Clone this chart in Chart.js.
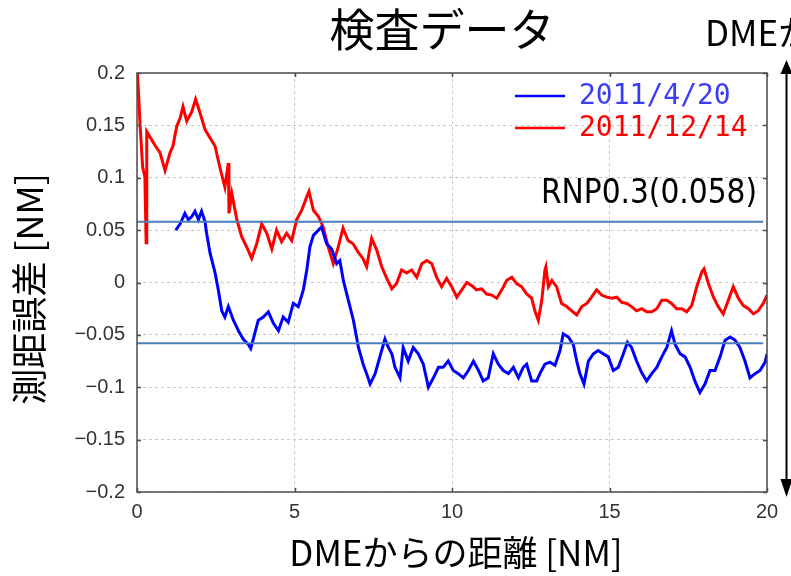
<!DOCTYPE html>
<html>
<head>
<meta charset="utf-8">
<title>検査データ</title>
<script src="https://cdn.jsdelivr.net/npm/chart.js@4.4.0/dist/chart.umd.min.js"></script>
<style>
  html, body { margin: 0; padding: 0; background: #fff; }
  #wrap { width: 791px; height: 576px; }
</style>
</head>
<body>
<div id="wrap"><canvas id="errChart" width="791" height="576"></canvas></div>
<script>
// 測距誤差 [NM] vs DMEからの距離 [NM]  ([距離, 誤差] の組)
const trace20110420 = [
  [1.23,0.050],[1.37,0.056],[1.52,0.066],[1.63,0.060],[1.74,0.063],[1.84,0.068],[1.95,0.060],[2.05,0.068],
  [2.16,0.058],[2.21,0.047],[2.32,0.028],[2.48,0.009],[2.58,-0.007],[2.69,-0.027],[2.79,-0.033],[2.90,-0.023],
  [3.06,-0.036],[3.22,-0.046],[3.37,-0.054],[3.53,-0.059],[3.61,-0.063],[3.71,-0.052],[3.85,-0.036],[4.01,-0.033],
  [4.17,-0.028],[4.33,-0.039],[4.49,-0.046],[4.64,-0.033],[4.80,-0.038],[4.96,-0.020],[5.12,-0.023],[5.28,-0.007],
  [5.39,0.012],[5.49,0.034],[5.60,0.045],[5.76,0.050],[5.86,0.053],[6.02,0.037],[6.18,0.032],[6.34,0.018],
  [6.44,0.021],[6.55,0.002],[6.71,-0.017],[6.87,-0.036],[7.03,-0.062],[7.18,-0.078],[7.29,-0.087],[7.40,-0.097],
  [7.56,-0.087],[7.71,-0.071],[7.87,-0.054],[7.98,-0.062],[8.09,-0.068],[8.19,-0.081],[8.35,-0.091],[8.45,-0.062],
  [8.61,-0.075],[8.77,-0.062],[8.93,-0.068],[9.09,-0.078],[9.25,-0.100],[9.41,-0.091],[9.57,-0.081],[9.72,-0.081],
  [9.88,-0.075],[10.04,-0.084],[10.20,-0.087],[10.36,-0.091],[10.52,-0.084],[10.68,-0.075],[10.84,-0.084],[10.99,-0.094],
  [11.15,-0.091],[11.31,-0.068],[11.47,-0.078],[11.63,-0.084],[11.79,-0.087],[11.95,-0.081],[12.11,-0.091],[12.26,-0.081],
  [12.37,-0.078],[12.53,-0.094],[12.69,-0.094],[12.79,-0.087],[12.95,-0.078],[13.11,-0.076],[13.27,-0.079],[13.43,-0.065],
  [13.53,-0.049],[13.69,-0.052],[13.85,-0.059],[13.96,-0.075],[14.06,-0.087],[14.19,-0.097],[14.33,-0.075],[14.49,-0.068],
  [14.64,-0.065],[14.80,-0.068],[14.96,-0.071],[15.12,-0.084],[15.28,-0.081],[15.44,-0.068],[15.57,-0.057],[15.70,-0.062],
  [15.86,-0.075],[16.02,-0.086],[16.18,-0.094],[16.34,-0.087],[16.50,-0.081],[16.66,-0.071],[16.82,-0.062],[16.97,-0.046],
  [17.08,-0.059],[17.24,-0.068],[17.40,-0.071],[17.56,-0.081],[17.71,-0.094],[17.87,-0.105],[18.03,-0.097],[18.19,-0.084],
  [18.35,-0.084],[18.51,-0.071],[18.67,-0.055],[18.83,-0.052],[18.98,-0.055],[19.14,-0.062],[19.30,-0.075],[19.46,-0.091],
  [19.62,-0.087],[19.78,-0.084],[19.94,-0.076],[20.00,-0.068]
];

const trace20111214 = [
  [0.01,0.200],[0.06,0.174],[0.10,0.149],[0.18,0.110],[0.25,0.101],[0.29,0.038],[0.31,0.144],[0.41,0.139],
  [0.57,0.131],[0.73,0.124],[0.89,0.107],[1.05,0.124],[1.14,0.130],[1.26,0.149],[1.37,0.157],[1.46,0.168],
  [1.58,0.154],[1.74,0.163],[1.86,0.175],[2.00,0.162],[2.16,0.146],[2.32,0.138],[2.48,0.130],[2.63,0.110],
  [2.79,0.091],[2.90,0.114],[2.92,0.066],[3.01,0.085],[3.17,0.060],[3.32,0.044],[3.48,0.034],[3.64,0.023],
  [3.80,0.037],[3.96,0.056],[4.12,0.047],[4.28,0.032],[4.43,0.050],[4.59,0.039],[4.75,0.047],[4.91,0.040],
  [5.07,0.060],[5.23,0.069],[5.39,0.082],[5.46,0.087],[5.60,0.069],[5.76,0.063],[5.91,0.053],[6.07,0.034],
  [6.23,0.018],[6.39,0.034],[6.54,0.052],[6.70,0.040],[6.86,0.037],[7.02,0.029],[7.17,0.023],[7.29,0.015],
  [7.45,0.042],[7.61,0.031],[7.77,0.015],[7.93,0.004],[8.09,-0.006],[8.24,-0.001],[8.40,0.012],[8.56,0.009],
  [8.72,0.012],[8.88,0.005],[9.04,0.018],[9.20,0.021],[9.36,0.018],[9.51,0.005],[9.67,-0.004],[9.83,0.004],
  [9.99,-0.004],[10.15,-0.014],[10.31,-0.007],[10.47,0.000],[10.63,-0.003],[10.78,-0.007],[10.94,-0.006],[11.10,-0.011],
  [11.26,-0.012],[11.42,-0.015],[11.58,-0.007],[11.74,0.002],[11.90,0.005],[12.05,-0.001],[12.21,-0.004],[12.37,-0.011],
  [12.53,-0.015],[12.63,-0.027],[12.74,-0.036],[12.85,-0.017],[12.95,0.012],[12.98,0.015],[13.06,-0.004],[13.17,0.002],
  [13.32,-0.004],[13.48,-0.020],[13.64,-0.023],[13.80,-0.027],[13.96,-0.031],[14.12,-0.023],[14.28,-0.020],[14.43,-0.014],
  [14.59,-0.007],[14.75,-0.012],[14.91,-0.014],[15.07,-0.015],[15.23,-0.014],[15.39,-0.019],[15.55,-0.020],[15.70,-0.023],
  [15.86,-0.027],[16.02,-0.025],[16.18,-0.028],[16.34,-0.028],[16.50,-0.025],[16.66,-0.017],[16.82,-0.017],[16.97,-0.020],
  [17.13,-0.025],[17.29,-0.025],[17.45,-0.028],[17.61,-0.022],[17.77,-0.004],[17.93,0.010],[18.00,0.013],[18.14,-0.001],
  [18.30,-0.014],[18.45,-0.023],[18.61,-0.030],[18.77,-0.017],[18.93,-0.004],[19.09,-0.015],[19.25,-0.022],[19.41,-0.025],
  [19.57,-0.030],[19.72,-0.027],[19.88,-0.020],[20.00,-0.012]
];

const seriesLabels = ['2011/4/20', '2011/12/14'];
const rnpLimit = 0.058;               // RNP0.3 の許容値
const distTicks = [0, 5, 10, 15, 20];
const errTicks = [-0.2, -0.15, -0.1, -0.05, 0, 0.05, 0.1, 0.15, 0.2];

const CJK = "'Noto Sans CJK JP', sans-serif";
const NARROW = "'Liberation Sans Narrow', 'DejaVu Sans Condensed', sans-serif";
const MONO = "'DejaVu Sans Mono', monospace";

const toPts = arr => arr.map(p => ({ x: p[0], y: p[1] }));

// 枠・内向き目盛り・見出し・凡例・矢印
const decor = {
    id: 'decor',
    beforeDraw(chart) {
        const ctx = chart.ctx;
        ctx.save();
        ctx.fillStyle = '#fff';
        ctx.fillRect(0, 0, chart.width, chart.height);
        ctx.restore();
    },
    afterDraw(chart) {
        const { ctx, chartArea: a, scales: { x, y } } = chart;
        ctx.save();

        ctx.strokeStyle = '#4d4d4d';
        ctx.lineWidth = 1.5;
        ctx.strokeRect(a.left, a.top, a.right - a.left, a.bottom - a.top);

        ctx.beginPath();
        errTicks.forEach(v => {
            const py = Math.round(y.getPixelForValue(v)) + 0.5;
            ctx.moveTo(a.left, py); ctx.lineTo(a.left + 4, py);
            ctx.moveTo(a.right, py); ctx.lineTo(a.right - 4, py);
        });
        distTicks.forEach(v => {
            const px = Math.round(x.getPixelForValue(v)) + 0.5;
            ctx.moveTo(px, a.top); ctx.lineTo(px, a.top + 4);
            ctx.moveTo(px, a.bottom); ctx.lineTo(px, a.bottom - 4);
        });
        ctx.stroke();

        // RNP ラベル
        ctx.fillStyle = '#000';
        ctx.font = '33px ' + NARROW;
        ctx.textAlign = 'right';
        ctx.textBaseline = 'middle';
        ctx.fillText('RNP0.3(0.058)', a.right - 10, y.getPixelForValue(rnpLimit) - 27);

        // 凡例
        ctx.font = '28px ' + MONO;
        ctx.textAlign = 'left';
        chart.data.datasets.filter(d => d.showInLegend).forEach((d, i) => {
            const ly = a.top + 23 + i * 32;
            ctx.strokeStyle = d.borderColor;
            ctx.lineWidth = 2.5;
            ctx.beginPath();
            ctx.moveTo(a.left + 378, ly); ctx.lineTo(a.left + 428, ly);
            ctx.stroke();
            ctx.fillStyle = d.legendText;
            ctx.fillText(d.label, a.left + 442, ly + 1);
        });

        // 見出し
        ctx.fillStyle = '#000';
        ctx.textAlign = 'center';
        ctx.font = '45px ' + CJK;
        ctx.fillText('検査データ', 442, 30);
        ctx.font = '35px ' + CJK;
        ctx.fillText('DMEからの距離 [NM]', 456, 553);
        ctx.textAlign = 'left';
        ctx.font = '35px ' + CJK;
        ctx.fillText('DMEからの距離', 705, 33);

        ctx.save();
        ctx.translate(29, 289);
        ctx.rotate(-Math.PI / 2);
        ctx.textAlign = 'center';
        ctx.font = '36px ' + CJK;
        ctx.fillText('測距誤差 [NM]', 0, 0);
        ctx.restore();

        // 右端の両矢印
        const ax = 786.5, top = 60, bot = 497;
        ctx.strokeStyle = '#000';
        ctx.fillStyle = '#000';
        ctx.lineWidth = 2;
        ctx.beginPath();
        ctx.moveTo(ax, top + 10); ctx.lineTo(ax, bot - 12);
        ctx.stroke();
        ctx.beginPath();
        ctx.moveTo(ax, top); ctx.lineTo(ax - 6, top + 14); ctx.lineTo(ax + 6, top + 14); ctx.closePath();
        ctx.fill();
        ctx.beginPath();
        ctx.moveTo(ax, bot); ctx.lineTo(ax - 6, bot - 18); ctx.lineTo(ax + 6, bot - 18); ctx.closePath();
        ctx.fill();

        ctx.restore();
    }
};

new Chart(document.getElementById('errChart'), {
    type: 'line',
    data: {
        datasets: [
            {
                label: 'RNP+', data: [{ x: 0, y: rnpLimit }, { x: 19.88, y: rnpLimit }],
                borderColor: '#4a7ebb', borderWidth: 2, pointRadius: 0, order: 0
            },
            {
                label: 'RNP-', data: [{ x: 0, y: -rnpLimit }, { x: 19.88, y: -rnpLimit }],
                borderColor: '#4a7ebb', borderWidth: 2, pointRadius: 0, order: 0
            },
            {
                label: seriesLabels[0], data: toPts(trace20110420),
                borderColor: '#0000ff', legendText: '#3c3cf5', showInLegend: true,
                borderWidth: 3, pointRadius: 0, tension: 0, order: 1
            },
            {
                label: seriesLabels[1], data: toPts(trace20111214),
                borderColor: '#ff0000', legendText: '#ff0000', showInLegend: true,
                borderWidth: 3, pointRadius: 0, tension: 0, order: 2
            }
        ]
    },
    options: {
        responsive: false,
        animation: false,
        layout: { padding: { left: 0, right: 24, top: 73, bottom: 0 } },
        plugins: {
            legend: { display: false },
            tooltip: { enabled: false },
            title: { display: false }
        },
        scales: {
            x: {
                type: 'linear', min: 0, max: 20,
                afterBuildTicks: s => { s.ticks = distTicks.map(v => ({ value: v })); },
                afterFit: s => { s.height = 84; },
                grid: { color: '#c8c8c8', lineWidth: 1, drawTicks: false },
                border: { display: false, dash: [3, 3] },
                ticks: { padding: 8, color: '#333', font: { family: 'Liberation Sans', size: 20 } }
            },
            y: {
                type: 'linear', min: -0.2, max: 0.2,
                afterBuildTicks: s => { s.ticks = errTicks.map(v => ({ value: v })); },
                afterFit: s => { s.width = 137; },
                grid: { color: '#c8c8c8', lineWidth: 1, drawTicks: false },
                border: { display: false, dash: [3, 3] },
                ticks: {
                    padding: 12, color: '#333', font: { family: 'Liberation Sans', size: 20 },
                    callback: v => String(Math.round(v * 100) / 100).replace('-', '\u2212')
                }
            }
        }
    },
    plugins: [decor]
});
</script>
</body>
</html>
